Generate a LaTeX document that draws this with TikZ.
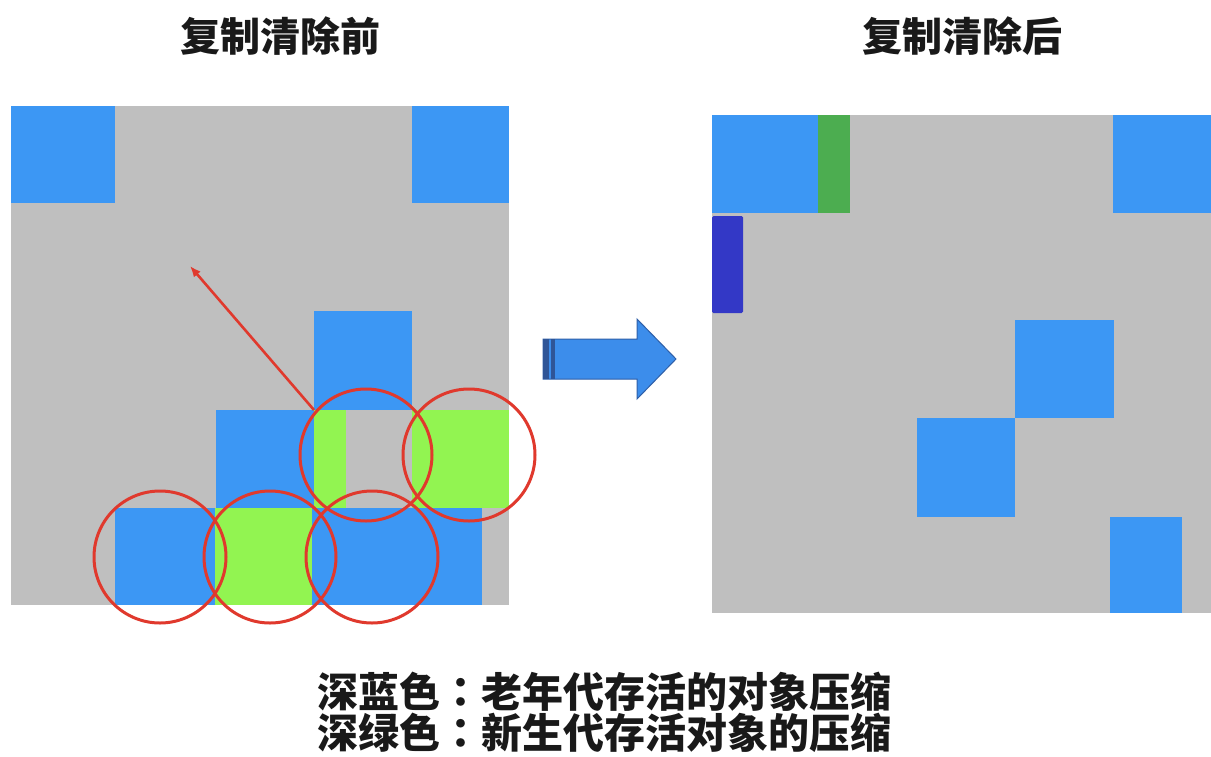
\documentclass[tikz,border=0pt]{standalone}
\usepackage{fontspec}
\usetikzlibrary{arrows.meta}
\newfontfamily\cjk{Noto Sans CJK SC}
\newfontfamily\cjktc{Noto Sans CJK TC}
\definecolor{cgray}{HTML}{BFBFBF}
\definecolor{cblue}{HTML}{3C97F4}
\definecolor{cgreen}{HTML}{92F451}
\definecolor{cred}{HTML}{E0392D}
\definecolor{cdkgreen}{HTML}{4CAD50}
\definecolor{cdkblue}{HTML}{3338C6}
\definecolor{carrow}{HTML}{3C8DEB}
\definecolor{carrowline}{HTML}{2F5FA8}
\definecolor{cstripe}{HTML}{2F5597}
\tikzset{
  panel/.style={fill=cgray},
  oldobj/.style={fill=cblue},
  youngobj/.style={fill=cgreen},
  ring/.style={draw=cred, line width=3pt},
  title/.style={font=\cjk\bfseries\fontsize{40}{44}\selectfont, text=black!90, inner sep=0pt},
  legend/.style={font=\cjk\bfseries\fontsize{41}{41}\selectfont, text=black!90, inner sep=0pt, align=center}
}
\newcommand{\ccolon}{{\cjktc\bfseries ：}}
\begin{document}
\begin{tikzpicture}[x=1pt,y=-1pt]
\useasboundingbox[fill=white] (0,0) rectangle (1211,756);
% titles
\node[title] (t1) at (280,36) {复制清除前};
\node[title] (t2) at (962,36) {复制清除后};
% ---------- left panel ----------
\fill[panel] (11,106) rectangle (509,605);
\fill[oldobj] (11,106) rectangle (115,203);
\fill[oldobj] (412,106) rectangle (509,203);
\fill[oldobj] (314,311) rectangle (412,410);
\fill[oldobj] (216,410) rectangle (314,508);
\fill[youngobj] (314,410) rectangle (346,508);
\fill[youngobj] (412,410) rectangle (509,508);
\fill[oldobj] (115,508) rectangle (215,605);
\fill[youngobj] (215,508) rectangle (312,605);
\fill[oldobj] (312,508) rectangle (482,605);
% circles
\draw[ring] (160,557) circle[radius=66pt];
\draw[ring] (270,557) circle[radius=66pt];
\draw[ring] (372,557) circle[radius=66pt];
\draw[ring] (366,455) circle[radius=66pt];
\draw[ring] (469,455) circle[radius=66pt];
% red arrow
\coordinate (as) at (314,410);
\coordinate (ae) at (190,266);
\draw[cred, line width=2.6pt, -{Latex[length=11pt,width=9pt]}] (as) -- (ae);
% ---------- block arrow ----------
\draw[fill=carrow, draw=carrowline, line width=1pt]
  (543,339) -- (637,339) -- (637,319) -- (676,359) -- (637,399) -- (637,379) -- (543,379) -- cycle;
\fill[cstripe] (543,339) rectangle (549,379);
\fill[cstripe] (551,339) rectangle (555,379);
% ---------- right panel ----------
\fill[panel] (712,115) rectangle (1211,613);
\fill[oldobj] (712,115) rectangle (818,213);
\fill[cdkgreen] (818,115) rectangle (850,213);
\fill[cdkblue, rounded corners=1.5pt] (712,216) rectangle (743,313);
\fill[oldobj] (1113,115) rectangle (1211,213);
\fill[oldobj] (1015,320) rectangle (1114,418);
\fill[oldobj] (917,418) rectangle (1015,517);
\fill[oldobj] (1110,517) rectangle (1182,613);
% legend
\node[legend] (l1) at (604,692) {深蓝色\ccolon 老年代存活的对象压缩};
\node[legend] (l2) at (604,733) {深绿色\ccolon 新生代存活对象的压缩};
\end{tikzpicture}
\end{document}
